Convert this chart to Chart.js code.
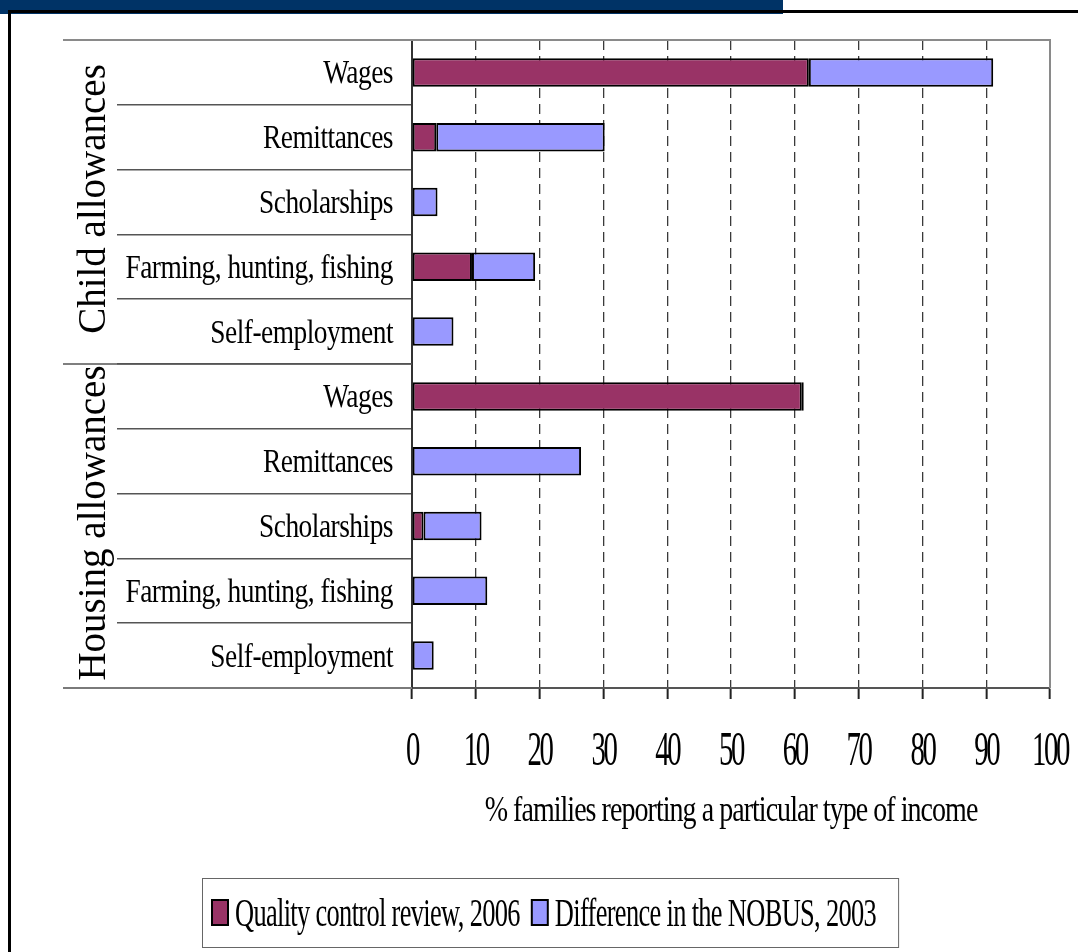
<!DOCTYPE html>
<html>
<head>
<meta charset="utf-8">
<title>Income sources of allowance recipients</title>
<script src="https://cdn.jsdelivr.net/npm/chart.js@4.4.1/dist/chart.umd.min.js"></script>
<style>
    body { margin: 0; background: #fff; }
    #wrap { position: relative; width: 1078px; height: 952px; overflow: hidden; }
    .band { position: absolute; left: 0; top: 0; width: 783px; height: 14px; background: #003366; }
    .rule-top { position: absolute; left: 8px; top: 10px; right: 0; height: 3px; background: #000; }
    .rule-left { position: absolute; left: 8px; top: 10px; width: 3px; bottom: 0; background: #000; }
    #incomeChart { position: absolute; left: 0; top: 0; }
</style>
</head>
<body>
<div id="wrap">
    <canvas id="incomeChart" width="1078" height="952"></canvas>
    <div class="band"></div>
    <div class="rule-top"></div>
    <div class="rule-left"></div>
</div>
<script>
// Rows, top to bottom: five income types for each allowance group
const incomeTypes = [
    'Wages', 'Remittances', 'Scholarships', 'Farming, hunting, fishing', 'Self-employment',
    'Wages', 'Remittances', 'Scholarships', 'Farming, hunting, fishing', 'Self-employment'
];
const allowanceGroups = ['Child allowances', 'Housing allowances'];
const rowsPerGroup = 5;

// % of families reporting each income type
const qualityReview2006 = [62.2, 3.8, 0, 9.4, 0, 61.1, 0, 1.8, 0, 0];
const nobusDifference2003 = [28.9, 26.4, 4.0, 9.9, 6.5, 0.3, 26.5, 9.1, 11.8, 3.4];

const percentTicks = [0, 10, 20, 30, 40, 50, 60, 70, 80, 90, 100];
const axisTitle = '% families reporting a particular type of income';
const seriesNames = ['Quality control review, 2006', 'Difference in the NOBUS, 2003'];
const seriesColors = ['#993366', '#9999FF'];

const serif = '"Liberation Serif", "Times New Roman", serif';

// fillText with a horizontal squeeze (the labels are set very narrow)
function squeezedText(ctx, text, x, y, size, sx, align, spacing) {
    ctx.save();
    ctx.translate(x, y);
    ctx.scale(sx, 1);
    ctx.font = size + 'px ' + serif;
    if ('letterSpacing' in ctx) ctx.letterSpacing = (spacing || 0) + 'px';
    ctx.textAlign = align;
    ctx.textBaseline = 'alphabetic';
    ctx.fillStyle = '#000';
    ctx.fillText(text, 0, 0);
    const w = ctx.measureText(text).width * sx;
    ctx.restore();
    return w;
}

function textWidth(ctx, text, size, sx, spacing) {
    ctx.save();
    ctx.font = size + 'px ' + serif;
    if ('letterSpacing' in ctx) ctx.letterSpacing = (spacing || 0) + 'px';
    const w = ctx.measureText(text).width * sx;
    ctx.restore();
    return w;
}

const labelsPlugin = {
    id: 'tableLabels',
    afterDraw(chart) {
        const ctx = chart.ctx;
        const { left, right, top, bottom } = chart.chartArea;
        const xs = chart.scales.x;
        const ys = chart.scales.y;

        // plot frame: top and right edges in grey
        ctx.save();
        ctx.strokeStyle = '#8a8a8a';
        ctx.lineWidth = 2;
        ctx.beginPath();
        ctx.moveTo(63, top);
        ctx.lineTo(right, top);
        ctx.lineTo(right, bottom);
        ctx.stroke();

        // group divider and bottom line of the label table
        const step = ys.getPixelForValue(1) - ys.getPixelForValue(0);
        ctx.strokeStyle = '#555';
        ctx.lineWidth = 1.5;
        for (let g = 1; g < allowanceGroups.length; g++) {
            const yb = ys.getPixelForValue(g * rowsPerGroup) - step / 2;
            ctx.beginPath();
            ctx.moveTo(63, yb);
            ctx.lineTo(left, yb);
            ctx.stroke();
        }
        ctx.strokeStyle = '#7a7a7a';
        ctx.lineWidth = 2;
        ctx.beginPath();
        ctx.moveTo(63, bottom);
        ctx.lineTo(left, bottom);
        ctx.stroke();
        ctx.restore();

        // row labels
        incomeTypes.forEach((label, i) => {
            const yc = ys.getPixelForValue(i);
            squeezedText(ctx, ys.getLabelForValue(i), 393, yc + 11, 33, 0.83, 'right', -0.6);
        });

        // group labels, rotated
        allowanceGroups.forEach((name, g) => {
            const y0 = ys.getPixelForValue(g * rowsPerGroup);
            const y1 = ys.getPixelForValue(g * rowsPerGroup + rowsPerGroup - 1);
            ctx.save();
            ctx.translate(105, (y0 + y1) / 2 - 3);
            ctx.rotate(-Math.PI / 2);
            ctx.font = '39px ' + serif;
            ctx.textAlign = 'center';
            ctx.textBaseline = 'alphabetic';
            ctx.fillStyle = '#000';
            ctx.fillText(name, 0, 0);
            ctx.restore();
        });

        // x tick labels
        xs.ticks.forEach(t => {
            squeezedText(ctx, String(t.value), xs.getPixelForValue(t.value), 765, 48, 0.6, 'center', -4);
        });

        // x axis title
        squeezedText(ctx, axisTitle, (left + right) / 2, 821, 35, 0.8, 'center', -1.2);

        // legend box
        const lx = 202, ly = 878, lh = 69;
        const size = 40, sx = 0.66, sp = -1;
        let cx = lx + 10;
        const items = chart.data.datasets.map(ds => ({
            text: ds.label,
            color: ds.backgroundColor,
            w: textWidth(ctx, ds.label, size, sx, sp)
        }));
        let total = 10;
        items.forEach((it, i) => { total += 16 + 7 + it.w + (i < items.length - 1 ? 12 : 0); });
        total += 22;
        ctx.save();
        ctx.strokeStyle = '#666';
        ctx.lineWidth = 1;
        ctx.strokeRect(lx + 0.5, ly + 0.5, total, lh);
        ctx.restore();
        items.forEach((it, i) => {
            ctx.save();
            ctx.fillStyle = it.color;
            ctx.fillRect(cx, 900, 16, 25);
            ctx.strokeStyle = '#000';
            ctx.lineWidth = 2;
            ctx.strokeRect(cx, 900, 16, 25);
            ctx.restore();
            cx += 16 + 7;
            squeezedText(ctx, it.text, cx, 926, size, sx, 'left', sp);
            cx += it.w + 12;
        });
    }
};

const ctx = document.getElementById('incomeChart').getContext('2d');
const incomeChart = new Chart(ctx, {
    type: 'bar',
    data: {
        labels: incomeTypes,
        datasets: [{
            label: seriesNames[0],
            data: qualityReview2006,
            backgroundColor: seriesColors[0],
            borderColor: '#000',
            borderWidth: 2,
            borderSkipped: false
        }, {
            label: seriesNames[1],
            data: nobusDifference2003,
            backgroundColor: seriesColors[1],
            borderColor: '#000',
            borderWidth: 2,
            borderSkipped: false
        }]
    },
    options: {
        indexAxis: 'y',
        responsive: false,
        animation: false,
        barPercentage: 0.44,
        categoryPercentage: 1,
        layout: {
            padding: { left: 117, right: 28, top: 40, bottom: 253 }
        },
        scales: {
            x: {
                stacked: true,
                min: 0,
                max: 100,
                afterBuildTicks: scale => {
                    scale.ticks = percentTicks.map(v => ({ value: v }));
                },
                grid: {
                    color: c => (c.tick && (c.tick.value === 0 || c.tick.value === 100)) ? 'rgba(0,0,0,0)' : '#3a3a3a',
                    lineWidth: 1.3,
                    tickLength: 11,
                    tickColor: '#222',
                    tickWidth: 2
                },
                border: { color: '#555', width: 2, dash: [10, 6] },
                ticks: { display: false }
            },
            y: {
                stacked: true,
                grid: {
                    offset: true,
                    drawOnChartArea: false,
                    tickLength: 295,
                    color: '#555',
                    lineWidth: 1.5
                },
                border: { color: '#333', width: 2 },
                ticks: { display: false }
            }
        },
        plugins: {
            legend: { display: false },
            tooltip: { enabled: false }
        }
    },
    plugins: [labelsPlugin]
});
</script>
</body>
</html>
